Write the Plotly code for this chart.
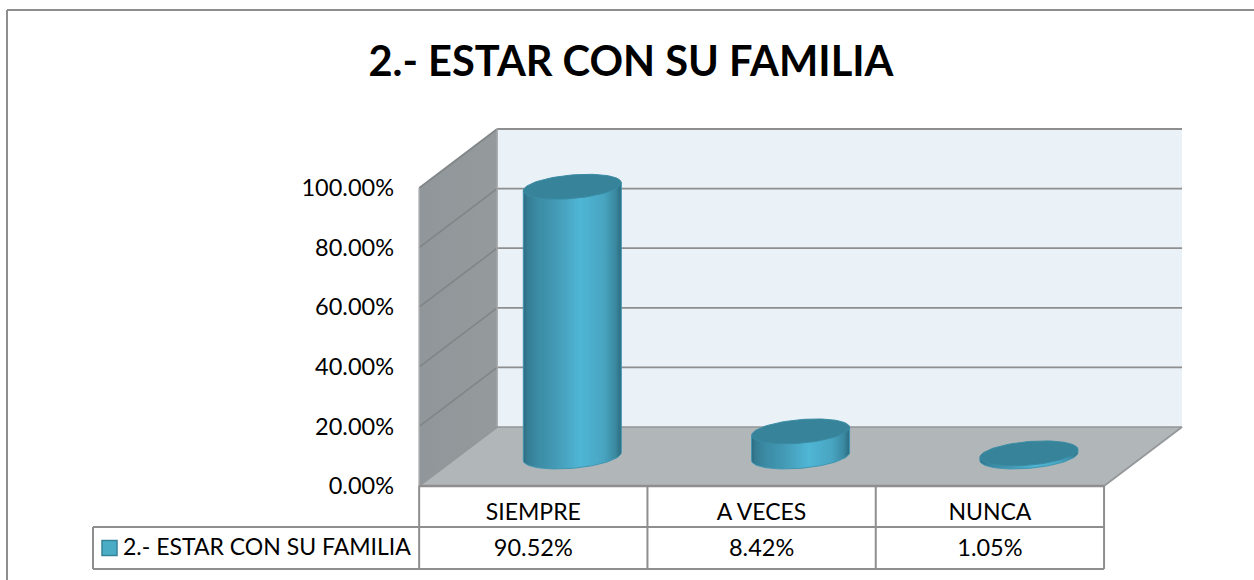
import numpy as np
import plotly.graph_objects as go

categories = ["SIEMPRE", "A VECES", "NUNCA"]
values = [90.52, 8.42, 1.05]
value_labels = ["90.52%", "8.42%", "1.05%"]
y_ticks = [0, 20, 40, 60, 80, 100]
y_tick_labels = ["0.00%", "20.00%", "40.00%", "60.00%", "80.00%", "100.00%"]
series_name = "2.- ESTAR CON SU FAMILIA"
title = "2.- ESTAR CON SU FAMILIA"

W, H = 1254, 580
X0, SX = 533.3, 228.3    # pixel of category 0, pixels per category
Y0, SY = 486.0, 2.98     # pixel of value 0, pixels per percent
DX, DY = 78.0, 59.0      # 3D depth in pixels
FONT = "Lato"
LINE = "#8e8e8e"

def px(v): return (v - X0) / SX
def py(v): return (Y0 - v) / SY
ddx, ddy = DX / SX, DY / SY
xl, xr = -0.5, len(categories) - 0.5

fig = go.Figure()

def poly(xs, ys, fill=None, grad=None, line=None, lw=0):
    kw = dict(fillgradient=grad) if grad else dict(fillcolor=fill)
    fig.add_trace(go.Scatter(x=xs, y=ys, mode="lines", fill="toself", hoverinfo="skip",
                             showlegend=False, line=dict(color=line or "rgba(0,0,0,0)", width=lw), **kw))

def seg(xs, ys, color=LINE, w=2):
    fig.add_trace(go.Scatter(x=xs, y=ys, mode="lines", hoverinfo="skip", showlegend=False,
                             line=dict(color=color, width=w)))

# walls and floor
top = y_ticks[-1]
poly([xl + ddx, xr + ddx, xr + ddx, xl + ddx], [ddy, ddy, top + ddy, top + ddy], fill="#EAF1F7")
poly([xl, xl + ddx, xl + ddx, xl], [0, ddy, top + ddy, top],
     grad=dict(type="horizontal", colorscale=[[0, "#90969A"], [1, "#959A9C"]]))
for t in y_ticks[1:]:
    seg([xl, xl + ddx], [t, t + ddy], color="#808587", w=1.6)
    seg([xl + ddx, xr + ddx], [t + ddy, t + ddy], w=1.8)
seg([xl, xl], [0, top], color="#A5A9AB", w=1.5)
seg([xl + ddx, xl + ddx], [ddy, top + ddy], color="#A5A9AB", w=1.5)
poly([xl, xl + ddx, xr + ddx, xr], [0, ddy, ddy, 0], fill="#B1B6B9")
seg([xl, xl + ddx, xr + ddx, xr], [0, ddy, ddy, 0], color="#949799", w=1.6)

# cylinders
A, B, S = 49.0, 11.8, 4.0
scale = [[0, "#2B6A7F"], [0.04, "#357C92"], [0.14, "#3B8BA4"], [0.32, "#4399B4"], [0.58, "#4FB6D5"],
         [0.82, "#48A5C1"], [0.94, "#3A89A1"], [1, "#2C6A7D"]]
for i, v in enumerate(values):
    cx = i + 0.5 * ddx
    base = 0.5 * ddy
    ts = np.linspace(np.pi, 2 * np.pi, 60)
    bx = cx + A / SX * np.cos(ts)
    by = base + (S * np.cos(ts) + B * np.sin(ts)) / SY
    xs = list(bx) + [cx + A / SX, cx - A / SX, cx - A / SX]
    ys = list(by) + [base + v + S / SY, base + v - S / SY, base - S / SY]
    poly(xs, ys, grad=dict(type="horizontal", colorscale=scale), line="#3F97B2", lw=1)
    tc = np.linspace(0, 2 * np.pi, 120)
    poly(cx + A / SX * np.cos(tc), base + v + (S * np.cos(tc) + B * np.sin(tc)) / SY,
         fill="#36839A", line="#3A8CA4", lw=1)

# data table
ROW1, ROW2, LEFT = 527.0, 569.0, 93.0
seg([xl, xr], [0, 0], color="#8e8e8e", w=2.4)
seg([px(LEFT), xr], [py(ROW1), py(ROW1)])
seg([px(LEFT), xr], [py(ROW2), py(ROW2)])
seg([px(LEFT), px(LEFT)], [py(ROW1), py(ROW2)])
for b in range(len(categories) + 1):
    seg([xl + b, xl + b], [0, py(ROW2)])

fig.add_trace(go.Scatter(x=list(range(len(categories))), y=[py(550)] * 3, mode="text",
                         text=value_labels, textposition="middle center", hoverinfo="skip",
                         showlegend=False, textfont=dict(family=FONT, size=23.5, color="black")))
fig.add_trace(go.Scatter(x=[px(109.5)], y=[py(548)], mode="markers", hoverinfo="skip", showlegend=False,
                         marker=dict(symbol="square", size=15, color="#4BACC6",
                                     line=dict(color="#37839A", width=1.5))))
fig.add_trace(go.Scatter(x=[px(123)], y=[py(549.5)], mode="text", text=[series_name],
                         textposition="middle right", hoverinfo="skip", showlegend=False,
                         textfont=dict(family=FONT, size=23, color="black")))

fig.update_layout(
    width=W, height=H, margin=dict(l=0, r=0, t=0, b=0),
    paper_bgcolor="white", plot_bgcolor="white", showlegend=False,
    font=dict(family=FONT, size=23, color="black"),
    title=dict(text=f"<b>{title}</b>", x=631 / W, y=1 - 61 / H, xanchor="center", yanchor="middle",
               xref="paper", yref="paper", font=dict(family=FONT, size=41.6, color="black")),
    xaxis=dict(range=[px(0), px(W)], tickmode="array", tickvals=list(range(len(categories))),
               ticktext=categories, showgrid=False, zeroline=False, showline=False, ticks="",
               anchor="free", position=1 - Y0 / H, ticklabelstandoff=10, fixedrange=True,
               tickfont=dict(family=FONT, size=23, color="black")),
    yaxis=dict(range=[py(H), py(0)], tickmode="array", tickvals=y_ticks, ticktext=y_tick_labels,
               showgrid=False, zeroline=False, showline=False, ticks="",
               anchor="free", position=420 / W, ticklabelstandoff=26, fixedrange=True,
               tickfont=dict(family=FONT, size=23.5, color="black")),
    shapes=[dict(type="line", xref="paper", yref="paper", x0=7 / W, x1=1, y0=1 - 10 / H, y1=1 - 10 / H,
                 line=dict(color=LINE, width=2)),
            dict(type="line", xref="paper", yref="paper", x0=7 / W, x1=7 / W, y0=0, y1=1 - 10 / H,
                 line=dict(color=LINE, width=2))],
)
fig.write_html("out.html", config=dict(displayModeBar=False),
               post_script="document.body.style.margin='0';document.body.style.overflow='hidden';")
